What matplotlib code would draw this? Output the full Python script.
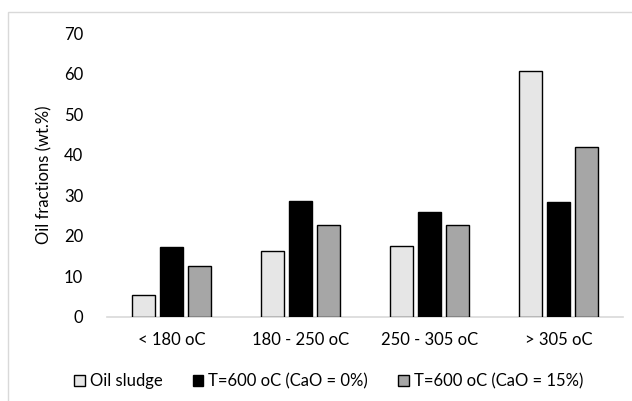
import matplotlib
matplotlib.use("Agg")
import matplotlib.pyplot as plt
import numpy as np
from matplotlib.patches import Rectangle

plt.rcParams['font.family'] = ['Lato', 'DejaVu Sans']

categories = ["< 180 oC", "180 - 250 oC", "250 - 305 oC", "> 305 oC"]
series_names = ["Oil sludge", "T=600 oC (CaO = 0%)", "T=600 oC (CaO = 15%)"]
oil_sludge = [5.4, 16.2, 17.6, 60.6]
cao_0 = [17.3, 28.7, 25.9, 28.4]
cao_15 = [12.5, 22.6, 22.8, 42.0]
colors = ["#E6E6E6", "#000000", "#A6A6A6"]

fig = plt.figure(figsize=(6.32, 4.01), dpi=100)
ax = fig.add_axes([0.169, 0.2095, 0.817, 0.708])

x = np.arange(len(categories))
w = 0.18
step = 0.217
for i, (vals, name, c) in enumerate(zip([oil_sludge, cao_0, cao_15], series_names, colors)):
    ax.bar(x + (i - 1) * step, vals, w, color=c, edgecolor="black", linewidth=1.0, label=name, zorder=3)

ax.set_xlim(-0.5, len(categories) - 0.5)
ax.set_ylim(0, 70)
ax.set_yticks(range(0, 71, 10))
ax.set_xticks(x)
ax.set_xticklabels(categories, fontsize=12)
ax.tick_params(axis='y', labelsize=12, length=0, pad=17)
ax.tick_params(axis='x', length=0, pad=11)
for s in ["top", "right", "left"]:
    ax.spines[s].set_visible(False)
ax.spines["bottom"].set_color("#D9D9D9")
ax.spines["bottom"].set_linewidth(1.2)
ax.set_ylabel("Oil fractions (wt.%)", fontsize=12, labelpad=8)

ax.legend(loc="center", bbox_to_anchor=(0.52, 0.05), bbox_transform=fig.transFigure,
          ncol=3, frameon=False, fontsize=12, handlelength=0.65, handleheight=0.65,
          handletextpad=0.3, columnspacing=1.8)

fig.patches.append(Rectangle((8 / 632, -0.1), 1.2, 1 - 12 / 401 + 0.1, transform=fig.transFigure,
                             fill=False, edgecolor="#D9D9D9", linewidth=1.0))

fig.savefig("out.png", dpi=100)
